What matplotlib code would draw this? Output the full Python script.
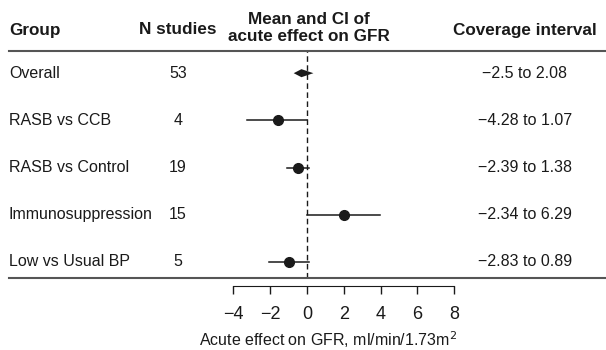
import matplotlib.pyplot as plt
from matplotlib.transforms import blended_transform_factory

plt.rcParams['font.family'] = ['Liberation Sans', 'DejaVu Sans']

groups = ['Overall', 'RASB vs CCB', 'RASB vs Control', 'Immunosuppression', 'Low vs Usual BP']
n_studies = [53, 4, 19, 15, 5]
means = [-0.3, -1.6, -0.51, 2.0, -0.95]
ci_low = [-0.72, -3.24, -1.06, 0.0, -2.04]
ci_high = [0.35, 0.0, 0.09, 3.96, 0.1]
coverage = ['\u22122.5 to 2.08', '\u22124.28 to 1.07', '\u22122.39 to 1.38',
            '\u22122.34 to 6.29', '\u22122.83 to 0.89']
xticks = [-4, -2, 0, 2, 4, 6, 8]

W, H = 606, 350
fig = plt.figure(figsize=(W / 100, H / 100), dpi=100)
# forest panel: x=-4 at 233px, x=8 at 454px; rows between the two rules
ax = fig.add_axes([233.3 / W, (H - 278) / H, (454.3 - 233.3) / W, (278 - 51) / H])
ax.set_xlim(-4, 8)
ax.set_ylim(4.34, -0.47)

col = '#1a1a1a'
# rows
for i, (m, lo, hi) in enumerate(zip(means, ci_low, ci_high)):
    if i == 0:
        h = 0.085
        ax.fill([lo, m, hi, m], [i, i - h, i, i + h], color=col, lw=0)
    else:
        ax.plot([lo, hi], [i, i], color=col, lw=1.1)
        ax.plot(m, i, 'o', color=col, ms=7)

ax.axvline(0, color=col, lw=1, ls=(0, (4, 2.5)))

for s in ['top', 'right', 'left']:
    ax.spines[s].set_visible(False)
ax.spines['bottom'].set_position(('outward', 6))
ax.spines['bottom'].set_bounds(-4, 8)
ax.spines['bottom'].set_color(col)
ax.set_yticks([])
ax.set_xticks(xticks)
ax.set_xticklabels([f'\u2212{abs(t)}' if t < 0 else str(t) for t in xticks], fontsize=13)
ax.tick_params(axis='x', direction='out', length=6, width=1, pad=8, colors=col)
ax.patch.set_visible(False)

# horizontal rules across the whole figure
tr = blended_transform_factory(fig.transFigure, ax.transData)
for y in [-0.47, 4.34]:
    ax.plot([9 / W, 605 / W], [y, y], color='#555555', lw=1.5, transform=tr, clip_on=False)

# table columns
for i in range(len(groups)):
    ax.text(9 / W, i, groups[i], transform=tr, ha='left', va='center', fontsize=11.5, color=col)
    ax.text(178 / W, i, str(n_studies[i]), transform=tr, ha='center', va='center', fontsize=11.5, color=col)
    ax.text(525 / W, i, coverage[i], transform=tr, ha='center', va='center', fontsize=11.5, color=col)

# headers
hk = dict(fontsize=12.3, fontweight='bold', color=col, va='center')
fig.text(9 / W, 1 - 30 / H, 'Group', ha='left', **hk)
fig.text(178 / W, 1 - 30 / H, 'N studies', ha='center', **hk)
fig.text(309 / W, 1 - 28 / H, 'Mean and CI of\nacute effect on GFR', ha='center',
         linespacing=1.1, **hk)
fig.text(525 / W, 1 - 30 / H, 'Coverage interval', ha='center', **hk)

fig.text(328 / W, 1 - 340 / H, 'Acute effect on GFR, ml/min/1.73m$^2$', ha='center', va='center',
         fontsize=11.5, color=col)

fig.savefig('out.png', dpi=100)
